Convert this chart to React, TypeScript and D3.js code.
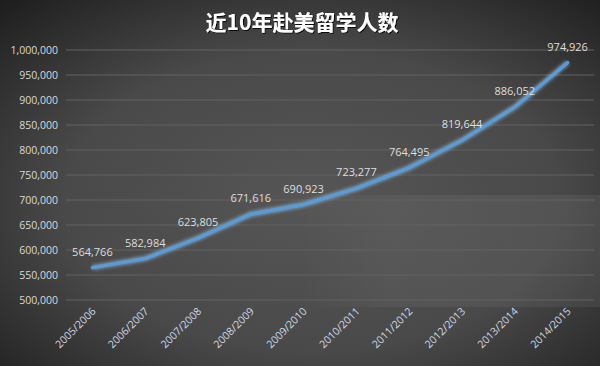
import React from "react";
import * as d3 from "d3";

const years = [
  "2005/2006", "2006/2007", "2007/2008", "2008/2009", "2009/2010",
  "2010/2011", "2011/2012", "2012/2013", "2013/2014", "2014/2015",
];
const students = [564766, 582984, 623805, 671616, 690923, 723277, 764495, 819644, 886052, 974926];
const yTicks = [500000, 550000, 600000, 650000, 700000, 750000, 800000, 850000, 900000, 950000, 1000000];

const W = 600;
const H = 366;
const margin = { top: 50, right: 6, bottom: 66, left: 66 };

export default function App() {
  const x = d3
    .scalePoint<string>()
    .domain(years)
    .range([margin.left, W - margin.right])
    .padding(0.5);
  const y = d3
    .scaleLinear()
    .domain([500000, 1000000])
    .range([H - margin.bottom, margin.top]);
  const fmt = d3.format(",");

  const line = d3
    .line<number>()
    .x((_, i) => x(years[i]) ?? 0)
    .y((d) => y(d));

  return (
    <svg
      width={W}
      height={H}
      style={{ position: "absolute", left: 0, top: 0, fontFamily: "'Open Sans', 'Liberation Sans', sans-serif" }}
    >
      <defs>
        <radialGradient id="bg" cx="0.52" cy="0.55" r="0.75">
          <stop offset="0" stopColor="#565656" />
          <stop offset="0.55" stopColor="#494949" />
          <stop offset="1" stopColor="#1e1e1e" />
        </radialGradient>
        <linearGradient id="band" x1="0" x2="1" y1="0" y2="0">
          <stop offset="0" stopColor="#ffffff" stopOpacity="0" />
          <stop offset="0.3" stopColor="#ffffff" stopOpacity="0.045" />
          <stop offset="1" stopColor="#ffffff" stopOpacity="0.06" />
        </linearGradient>
        <filter id="glow" x="-10%" y="-10%" width="120%" height="120%">
          <feGaussianBlur stdDeviation="1.6" />
        </filter>
        <filter id="shadow" x="-10%" y="-30%" width="120%" height="160%">
          <feDropShadow dx="1" dy="1" stdDeviation="0.6" floodColor="#000" floodOpacity="0.8" />
        </filter>
      </defs>

      <rect x={0} y={0} width={W} height={H} fill="url(#bg)" />
      <rect x={300} y={195} width={300} height={112} fill="url(#band)" />

      <text
        x={W / 2 + 2}
        y={30}
        textAnchor="middle"
        fontSize={21}
        fontWeight="bold"
        fill="#ffffff"
        filter="url(#shadow)"
        style={{ fontFamily: "'Noto Sans CJK SC', sans-serif" }}
      >
        近10年赴美留学人数
      </text>

      {yTicks.map((t) => (
        <g key={t}>
          <line
            x1={margin.left}
            x2={W - margin.right}
            y1={y(t)}
            y2={y(t)}
            stroke="#626262"
            strokeWidth={1}
          />
          <text
            x={58}
            y={y(t)}
            dy="0.35em"
            textAnchor="end"
            fontSize={10.5}
            fill="#d9d9d9"
          >
            {fmt(t)}
          </text>
        </g>
      ))}

      <path
        d={line(students) ?? ""}
        fill="none"
        stroke="#9cc8f0"
        strokeOpacity={0.5}
        strokeWidth={6}
        filter="url(#glow)"
      />
      <path
        d={line(students) ?? ""}
        fill="none"
        stroke="#5b9bd5"
        strokeWidth={3.5}
        strokeLinejoin="round"
        strokeLinecap="round"
      />

      {students.map((v, i) => (
        <text
          key={years[i]}
          x={x(years[i])}
          y={y(v) - 12}
          textAnchor="middle"
          fontSize={11}
          fill="#dedede"
        >
          {fmt(v)}
        </text>
      ))}

      {years.map((yr) => {
        const px = (x(yr) ?? 0) + 4;
        const py = H - margin.bottom + 12;
        return (
          <text
            key={yr}
            transform={`translate(${px},${py}) rotate(-45)`}
            textAnchor="end"
            fontSize={10.5}
            fill="#cfd8e6"
          >
            {yr}
          </text>
        );
      })}
    </svg>
  );
}
